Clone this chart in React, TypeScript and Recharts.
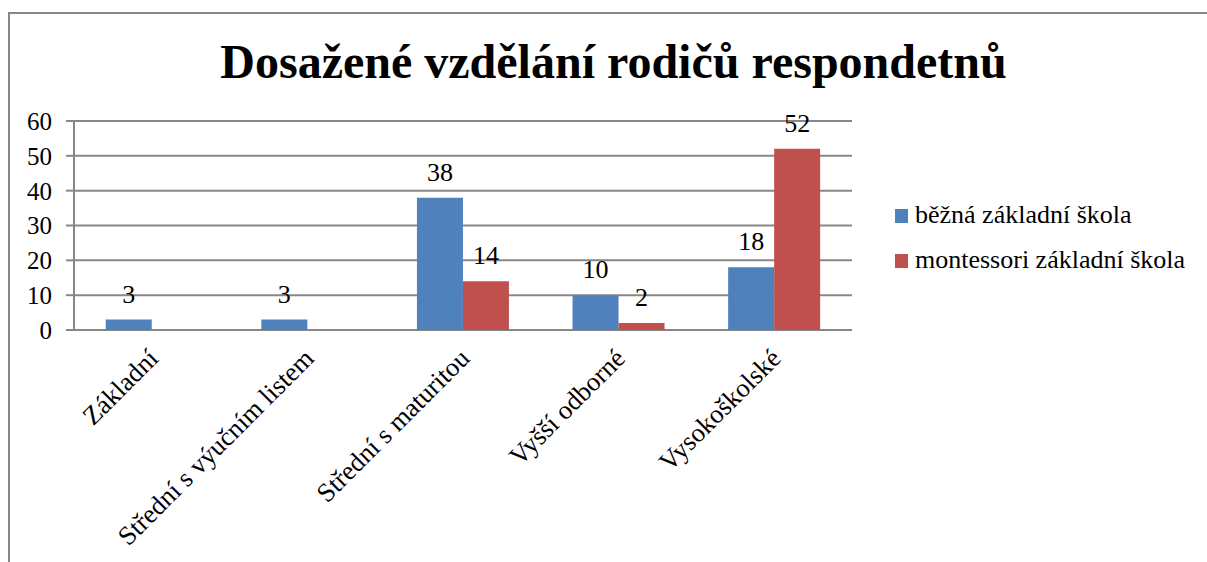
import React from 'react'
import {
  Bar,
  BarChart,
  CartesianGrid,
  LabelList,
  Legend,
  XAxis,
  YAxis,
} from 'recharts'

const categories = [
  'Základní',
  'Střední s výučním listem',
  'Střední s maturitou',
  'Vyšší odborné',
  'Vysokoškolské',
]
const bezna = [3, 3, 38, 10, 18]
const montessori = [null, null, 14, 2, 52]
const yTicks = [0, 10, 20, 30, 40, 50, 60]
const edgeTicks = [0, 1, 2, 3, 4, 5]

const data = categories.map((name, i) => ({
  name,
  bezna: bezna[i],
  montessori: montessori[i],
}))

const FONT = '"Liberation Serif", "Times New Roman", serif'
const GRAY = '#878787'

const CategoryTick = ({ x, y, payload }: any) => (
  <text
    transform={`translate(${x + 8},${y + 30}) rotate(-45)`}
    textAnchor="end"
    fontFamily={FONT}
    fontSize={26.5}
    fill="#000"
  >
    {payload.value}
  </text>
)

const renderLegend = ({ payload }: any) => (
  <div style={{ fontFamily: FONT, fontSize: 26, color: '#000' }}>
    {payload.map((e: any) => (
      <div key={e.value} style={{ height: 45, lineHeight: '45px', whiteSpace: 'nowrap' }}>
        <span
          style={{
            display: 'inline-block',
            width: 13,
            height: 14,
            background: e.color,
            marginRight: 7,
          }}
        />
        {e.value}
      </div>
    ))}
  </div>
)

export default function App() {
  return (
    <div style={{ position: 'absolute', left: 0, top: 0, width: 1207, height: 562, overflow: 'hidden', background: '#fff' }}>
      {/* frame: only top and left edges are visible in the picture */}
      <div style={{ position: 'absolute', left: 8, top: 12, width: 1199, height: 2, background: GRAY }} />
      <div style={{ position: 'absolute', left: 8, top: 12, width: 2, height: 550, background: GRAY }} />
      <div
        style={{
          position: 'absolute',
          left: 0,
          top: 38,
          width: 1227,
          textAlign: 'center',
          fontFamily: FONT,
          fontWeight: 'bold',
          fontSize: 48,
          lineHeight: 1,
          color: '#000',
        }}
      >
        Dosažené vzdělání rodičů respondetnů
      </div>
      <div style={{ position: 'absolute', left: 0, top: 0 }}>
        <BarChart
          width={1207}
          height={562}
          data={data}
          margin={{ top: 121, right: 355, bottom: 32, left: 24 }}
          barCategoryGap="20.4%"
          barGap={0}
        >
          <CartesianGrid vertical={false} stroke={GRAY} strokeWidth={2} />
          <XAxis
            xAxisId="edges"
            type="number"
            domain={[0, 5]}
            ticks={edgeTicks}
            allowDataOverflow
            tick={false}
            tickSize={8}
            height={0}
            axisLine={{ stroke: GRAY, strokeWidth: 2 }}
            tickLine={{ stroke: GRAY, strokeWidth: 2 }}
          />
          <XAxis
            dataKey="name"
            interval={0}
            height={200}
            axisLine={false}
            tickLine={false}
            tickSize={0}
            tickMargin={0}
            tick={<CategoryTick />}
          />
          <YAxis
            domain={[0, 60]}
            ticks={yTicks}
            width={50}
            tickSize={8}
            tickMargin={14}
            axisLine={{ stroke: GRAY, strokeWidth: 2 }}
            tickLine={{ stroke: GRAY, strokeWidth: 2 }}
            tick={{ fontFamily: FONT, fontSize: 25, fill: '#000' }}
          />
          <Legend
            layout="vertical"
            align="center"
            verticalAlign="middle"
            content={renderLegend}
            wrapperStyle={{ left: 895, top: 192, width: 310, height: 90 }}
          />
          <Bar dataKey="bezna" name="běžná základní škola" fill="#4F81BD" isAnimationActive={false}>
            <LabelList dataKey="bezna" position="top" offset={17} fontFamily={FONT} fontSize={26} fill="#000" />
          </Bar>
          <Bar dataKey="montessori" name="montessori základní škola" fill="#C0504D" isAnimationActive={false}>
            <LabelList dataKey="montessori" position="top" offset={17} fontFamily={FONT} fontSize={26} fill="#000" />
          </Bar>
        </BarChart>
      </div>
    </div>
  )
}
